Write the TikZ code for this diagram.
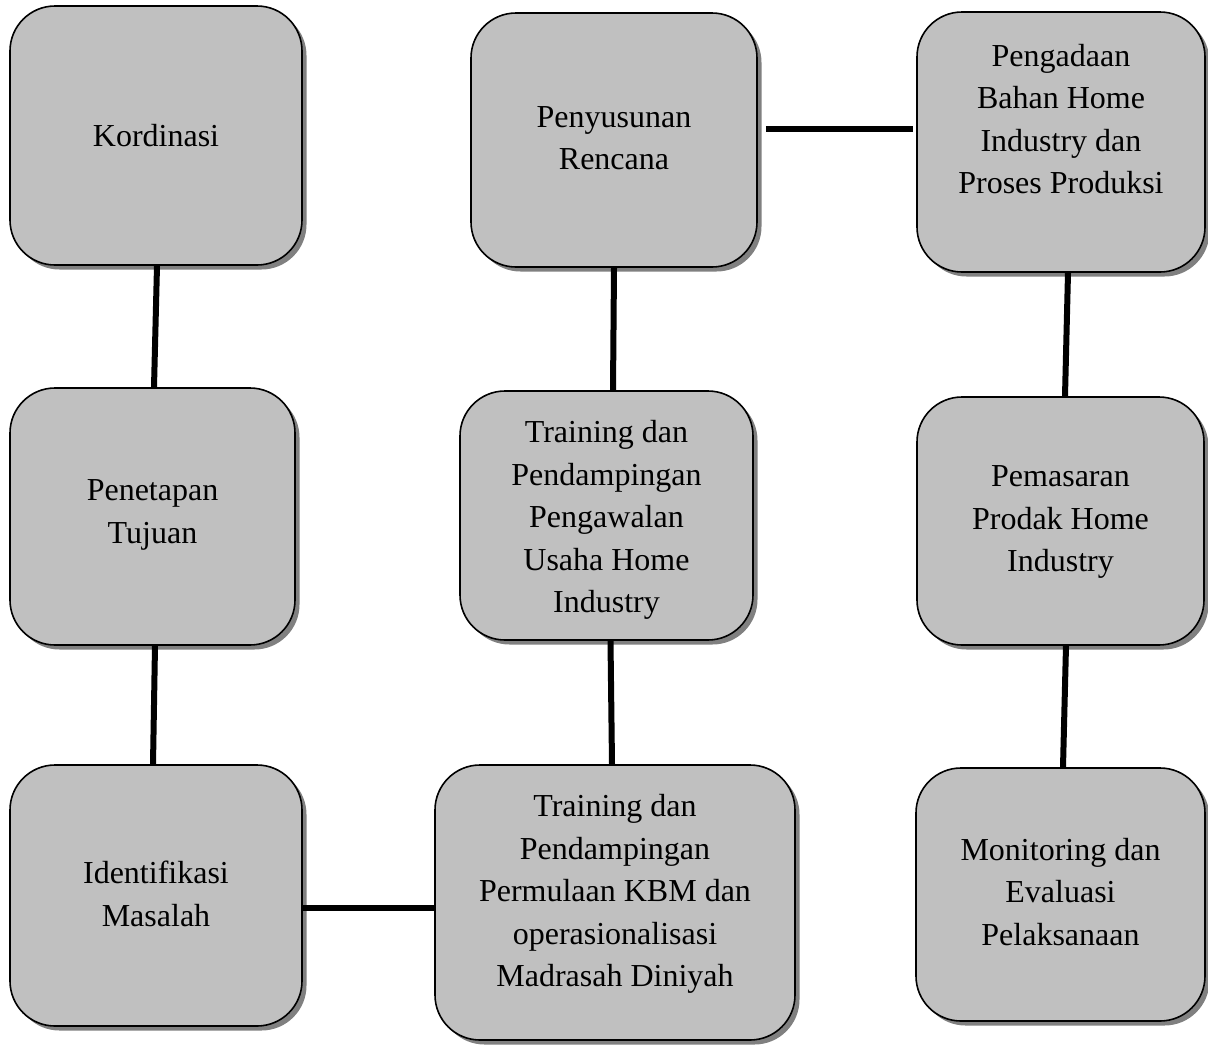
\documentclass[tikz,border=0pt]{standalone}
\usepackage{fontspec}
\setmainfont{Liberation Serif}
\usetikzlibrary{shadows}
\definecolor{boxgray}{HTML}{C0C0C0}
\definecolor{shadowgray}{HTML}{808080}
\tikzset{
  box/.style={rectangle, draw=black, line width=1.6pt, fill=boxgray,
    rounded corners=45pt, inner sep=0pt,
    drop shadow={shadow xshift=4.5pt, shadow yshift=-4.5pt, fill=shadowgray, opacity=1}},
  link/.style={line width=6pt, draw=black},
  txt/.style={align=center, inner sep=0pt, font=\fontsize{32}{42.5}\selectfont}
}
\begin{document}
\begin{tikzpicture}[x=1pt,y=-1pt]
\useasboundingbox (0,0) rectangle (1208,1045);
% left column
\node[box, minimum width=292pt, minimum height=259pt,
  label={[txt]center:Kordinasi}] (K) at (156,135.5) {};
\node[box, minimum width=285pt, minimum height=257pt,
  label={[txt,yshift=1.5pt]center:{Penetapan\\Tujuan}}] (P) at (152.5,516.5) {};
\node[box, minimum width=292pt, minimum height=261pt,
  label={[txt,yshift=1.5pt]center:{Identifikasi\\Masalah}}] (I) at (156,895.5) {};
% middle column
\node[box, minimum width=286pt, minimum height=254pt,
  label={[txt,yshift=2pt]center:{Penyusunan\\Rencana}}] (R) at (614,140) {};
\node[box, minimum width=293pt, minimum height=249pt,
  label={[txt,yshift=-4.5pt]center:{Training dan\\Pendampingan\\Pengawalan\\Usaha Home\\Industry}}] (T1) at (606.5,515.5) {};
\node[box, minimum width=360pt, minimum height=275pt,
  label={[txt,yshift=8.5pt]center:{Training dan\\Pendampingan\\Permulaan KBM dan\\operasionalisasi\\Madrasah Diniyah}}] (T2) at (615,902.5) {};
% right column
\node[box, minimum width=288pt, minimum height=260pt,
  label={[txt,yshift=23pt]center:{Pengadaan\\Bahan Home\\Industry dan\\Proses Produksi}}] (G) at (1061,142) {};
\node[box, minimum width=287pt, minimum height=248pt,
  label={[txt,yshift=-1pt]center:{Pemasaran\\Prodak Home\\Industry}}] (M) at (1060.5,521) {};
\node[box, minimum width=289pt, minimum height=253pt,
  label={[txt,yshift=2.5pt]center:{Monitoring dan\\Evaluasi\\Pelaksanaan}}] (E) at (1060.5,894.5) {};
% connectors
\draw[link] ([xshift=1pt]K.south) -- ([xshift=1.5pt]P.north);
\draw[link] ([xshift=2.5pt]P.south) -- ([xshift=-3pt]I.north);
\draw[link] ([yshift=-12.5pt]I.east) -- ([yshift=-5.5pt]T2.west);
\draw[link] ([xshift=-3pt]T2.north) -- ([xshift=4pt]T1.south);
\draw[link] ([xshift=6.5pt]T1.north) -- ([xshift=0pt]R.south);
\draw[link] ([xshift=8pt,yshift=11pt]R.east) -- ([xshift=-3pt,yshift=13pt]G.west);
\draw[link] ([xshift=7pt]G.south) -- ([xshift=4.5pt]M.north);
\draw[link] ([xshift=5.5pt]M.south) -- ([xshift=2.5pt]E.north);
\end{tikzpicture}
\end{document}
